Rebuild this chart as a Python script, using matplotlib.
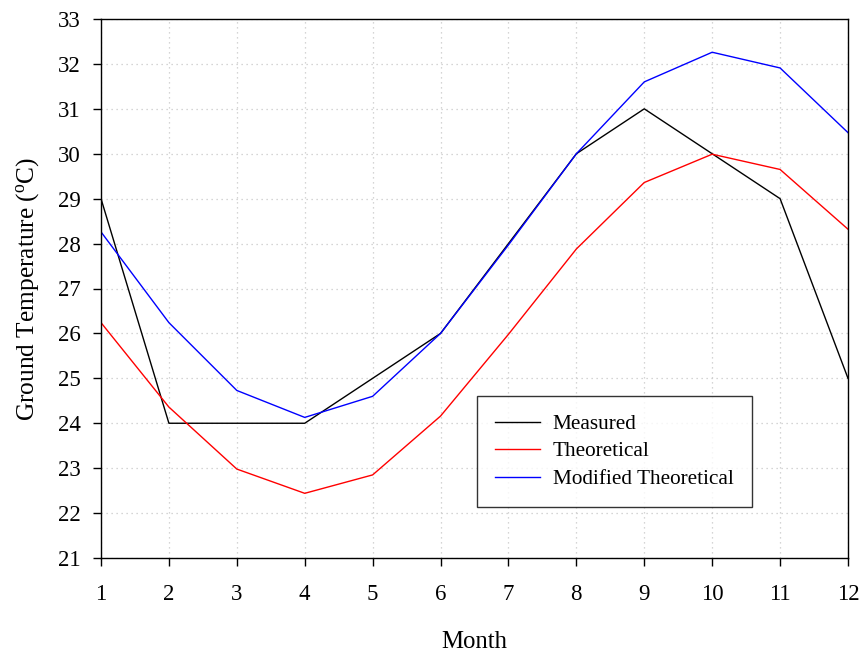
import matplotlib
matplotlib.use("Agg")
import matplotlib.pyplot as plt

plt.rcParams['font.family'] = ['Liberation Serif', 'DejaVu Serif']
plt.rcParams['mathtext.fontset'] = 'custom'
plt.rcParams['mathtext.rm'] = 'Liberation Serif'
plt.rcParams['mathtext.it'] = 'Liberation Serif:italic'

months = [1, 2, 3, 4, 5, 6, 7, 8, 9, 10, 11, 12]
measured = [29, 24, 24, 24, 25, 26, 28, 30, 31, 30, 29, 25]
theoretical = [26.24, 24.36, 22.98, 22.44, 22.85, 24.16, 25.98, 27.88, 29.36, 29.99, 29.65, 28.32]
modified = [28.26, 26.24, 24.73, 24.13, 24.60, 26.00, 27.97, 30.00, 31.60, 32.26, 31.91, 30.47]

fig = plt.figure(figsize=(8.64, 6.52), dpi=100)
ax = fig.add_axes([101/864, 1 - 558/652, (848 - 101)/864, (558 - 19)/652])

lw = 1.0
ax.plot(months, measured, color='black', lw=lw, label='Measured')
ax.plot(months, theoretical, color='red', lw=lw, label='Theoretical')
ax.plot(months, modified, color='blue', lw=lw, label='Modified Theoretical')

ax.set_xlim(1, 12)
ax.set_ylim(21, 33)
ax.set_xticks(months)
ax.set_yticks(range(21, 34))

ax.grid(True, color='#c8c8c8', linestyle=(0, (1, 3)), linewidth=0.9)
ax.set_axisbelow(True)

for s in ax.spines.values():
    s.set_linewidth(1.0)
    s.set_color('black')

ax.tick_params(axis='both', direction='out', length=5.5, width=1.0, labelsize=16.5)
ax.tick_params(axis='x', pad=13)
ax.tick_params(axis='y', pad=9)

ax.set_xlabel('Month', fontsize=17.8, labelpad=19)
ax.set_ylabel(r'Ground Temperature ($^{\mathrm{o}}$C)', fontsize=18.3, labelpad=12)

leg = ax.legend(loc='upper left', bbox_to_anchor=(477/864, 1 - 396/652),
                bbox_transform=fig.transFigure, fontsize=15.3, frameon=True,
                fancybox=False, shadow=False, handlelength=2.1,
                borderpad=0.85, labelspacing=0.36, handletextpad=0.62,
                borderaxespad=0)
leg.get_frame().set_edgecolor('black')
leg.get_frame().set_linewidth(1.0)

fig.savefig('out.png', dpi=100)
